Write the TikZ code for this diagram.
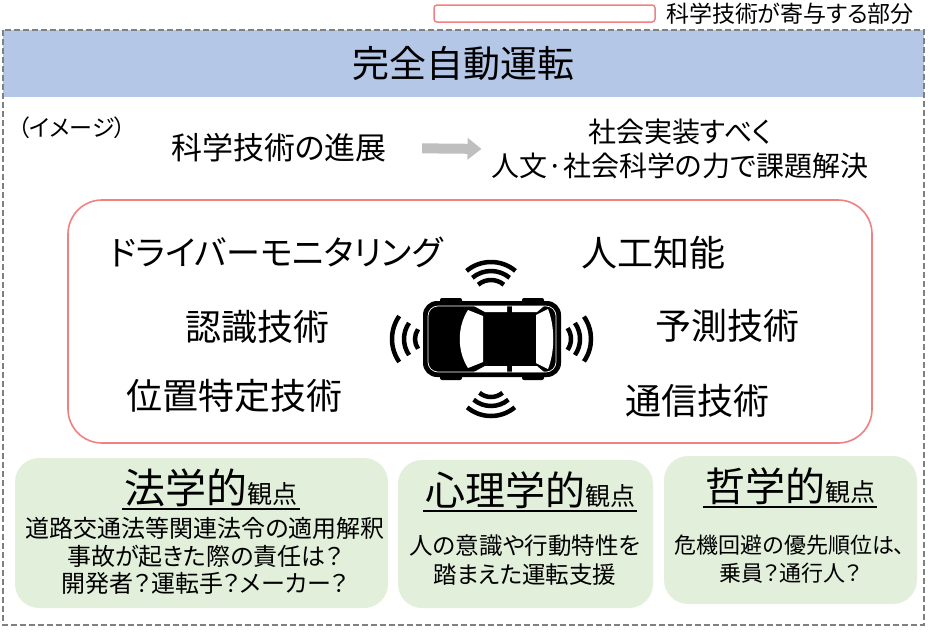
\documentclass[tikz,border=0pt]{standalone}
\usepackage{fontspec}
\setmainfont{Noto Sans CJK JP}[RawFeature=+palt]
\usetikzlibrary{arrows.meta}
\definecolor{contribred}{RGB}{242,128,128}
\definecolor{titleblue}{RGB}{180,199,231}
\definecolor{viewgreen}{RGB}{226,239,218}
\definecolor{framegray}{RGB}{128,128,128}
\definecolor{arrowgray}{RGB}{191,191,191}
\newcommand{\fsz}[2][1.25]{\fontsize{#2}{#1\dimexpr #2pt\relax}\selectfont}

\begin{document}
\begin{tikzpicture}[x=1pt,y=-1pt,>=Stealth,
    every node/.style={inner sep=0pt, align=center},
    tech/.style={font=\fsz{36}},
    wave/.style={line width=4.5pt},
    viewbox/.style={fill=viewgreen, rounded corners=24pt},
    uline/.style={line width=1.8pt}]
    \useasboundingbox (0,0) rectangle (931,633);

    % legend
    \draw[contribred, line width=1.5pt, rounded corners=3pt] (434,5) rectangle (655,22);
    \node[font=\fsz{23}] (legend) at (790,14) {科学技術が寄与する部分};

    % frame and title band
    \fill[titleblue] (3,30) rectangle (924,97);
    \draw[framegray, line width=1.6pt, dash pattern=on 6pt off 3pt] (3,30) rectangle (924,625);
    \node[font=\fsz{37}] (title) at (463,63) {完全自動運転};

    \node[font=\fsz{23}] (image) at (72,128) {（イメージ）};
    \node[font=\fsz{31}] (progress) at (279,148) {科学技術の進展};
    \node[font={\fsz[1.22]{28}}] (solve) at (680,149) {社会実装すべく\\人文·社会科学の力で課題解決};
    \draw[arrowgray, line width=10pt, shorten <=35pt, shorten >=10pt,
        -{Triangle[length=14pt,width=21pt]}] (progress.east) -- (solve.west);

    % science and technology
    \draw[contribred, line width=1.6pt, fill=white, rounded corners=34pt] (68,200) rectangle (872,443);
    \node[font=\fsz{34}] (monitor) at (276,252) {ドライバーモニタリング};
    \node[tech] (ai) at (653,253) {人工知能};
    \node[tech] (recog) at (257,327) {認識技術};
    \node[tech] (predict) at (727,326) {予測技術};
    \node[tech] (locate) at (234,396) {位置特定技術};
    \node[tech] (comm) at (697,401) {通信技術};

    % car
    \coordinate (car) at (492,339);
    \coordinate (ctop) at (491,300);
    \coordinate (cbot) at (491,379);
    \coordinate (cleft) at (432,339);
    \coordinate (cright) at (552,339);
    \begin{scope}[shift={(car)}]
        \fill[black, rounded corners=14pt] (-69,-38) rectangle (69,38);
        \foreach \x in {-52,30} {
            \fill[black, rounded corners=2pt] (\x,-41) rectangle (\x+22,-35);
            \fill[black, rounded corners=2pt] (\x,35) rectangle (\x+22,41);
        }
        \draw[white, line width=0.7pt, rounded corners=10pt] (-64,-33) rectangle (64,33);
        \fill[white] (-24,-29) .. controls (-35,-12) and (-35,12) .. (-24,29) -- (-9,23) -- (-9,-23) -- cycle;
        \fill[white] (44,-24) -- (56,-30) .. controls (63,-12) and (63,12) .. (56,30) -- (44,24) -- cycle;
        \foreach \s in {1,-1} {
            \fill[white] (-18,-33*\s) -- (15,-33*\s) -- (15,-27*\s) -- (-7,-27*\s) -- cycle;
            \fill[white] (20,-33*\s) -- (52,-33*\s) -- (45,-27*\s) -- (20,-27*\s) -- cycle;
        }
    \end{scope}
    \foreach \r in {20,29,38}
        \draw[wave] (ctop) ++(50:\r pt) arc[start angle=50, end angle=130, radius=\r pt];
    \foreach \r in {18,27,37}
        \draw[wave] (cbot) ++(230:\r pt) arc[start angle=230, end angle=310, radius=\r pt];
    \foreach \r in {17,28,40}
        \draw[wave] (cleft) ++(145:\r pt) arc[start angle=145, end angle=215, radius=\r pt];
    \foreach \r in {19,28,39}
        \draw[wave] (cright) ++(-35:\r pt) arc[start angle=-35, end angle=35, radius=\r pt];

    % viewpoints
    \fill[viewbox] (15,458) rectangle (388,608);
    \fill[viewbox] (398,460) rectangle (653,608);
    \fill[viewbox] (664,456) rectangle (917,604);

    \node[inner sep=2pt] (law) at (211,488) {\fsz{41}法学的\fsz{25}観点};
    \node[inner sep=2pt] (psych) at (530,490) {\fsz{40}心理学的\fsz{25}観点};
    \node[inner sep=2pt] (phil) at (790,486) {\fsz{40}哲学的\fsz{25}観点};
    \draw[uline] (law.south west) -- (law.south east);
    \draw[uline] (psych.south west) -- (psych.south east);
    \draw[uline] (phil.south west) -- (phil.south east);

    \node[font={\fsz[1.15]{24}}] (lawtext) at (205,556) {道路交通法等関連法令の適用解釈\\事故が起きた際の責任は？\\開発者？運転手？メーカー？};
    \node[font={\fsz[1.23]{23.5}}] (psychtext) at (525,560) {人の意識や行動特性を\\踏まえた運転支援};
    \node[font={\fsz[1.27]{22}}] (philtext) at (790,559) {危機回避の優先順位は、\\乗員？通行人？};
\end{tikzpicture}
\end{document}
